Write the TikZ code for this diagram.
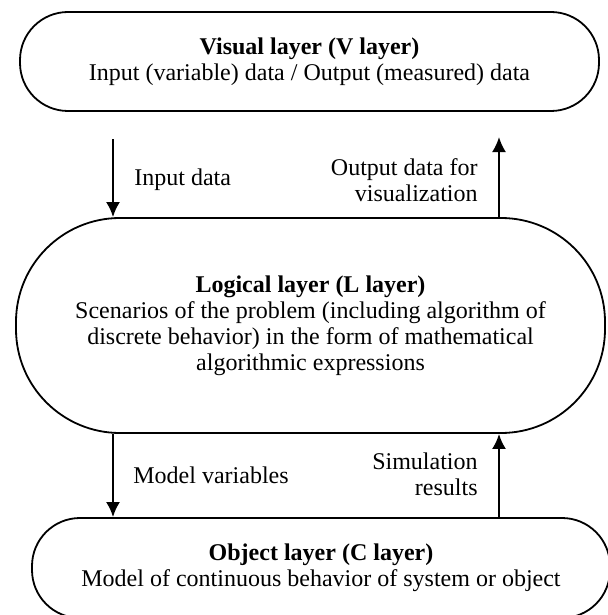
\documentclass[tikz,border=0pt]{standalone}
\usepackage{fontspec}
\setmainfont{Liberation Serif}
\usetikzlibrary{arrows.meta}

\tikzset{
  layer/.style={draw, line width=.9pt, align=center, inner sep=0pt,
    font=\fontsize{12}{13}\selectfont},
  flow/.style={line width=1.1pt, -{Latex[length=7.5pt,width=7pt]}},
  lbl/.style={inner sep=0pt, font=\fontsize{12}{13}\selectfont}
}

\begin{document}
\begin{tikzpicture}[x=.5pt,y=-.5pt]
  \useasboundingbox (0,0) rectangle (608,615);

  % the three layers
  \node[layer, minimum width=289.5pt, minimum height=49.5pt,
        rounded corners=24pt] (visual) at (309.5,61.5)
    {\textbf{Visual layer (V layer)}\\
     Input (variable) data / Output (measured) data};
  \node[layer, minimum width=294.5pt, minimum height=107.5pt,
        rounded corners=52pt] (logical) at (310.5,325.5)
    {\textbf{Logical layer (L layer)}\\
     Scenarios of the problem (including algorithm of\\
     discrete behavior) in the form of mathematical\\
     algorithmic expressions};
  \node[layer, minimum width=289pt, minimum height=50pt,
        rounded corners=24pt] (object) at (321,568)
    {\textbf{Object layer (C layer)}\\
     Model of continuous behavior of system or object};

  % free ends of the upper arrows
  \coordinate (indata) at (113,139);
  \coordinate (outdata) at (499,137);
  \coordinate (down) at (113,0);
  \coordinate (up) at (499,0);

  \draw[flow] (indata) -- (indata |- logical.north);
  \draw[flow] (outdata |- logical.north) -- (outdata);
  \draw[flow] (down |- logical.south) -- (down |- object.north);
  \draw[flow] (up |- object.north) -- (up |- logical.south);

  \node[lbl, anchor=west] (inlbl) at (134,180) {Input data};
  \node[lbl, anchor=east, align=right] (outlbl) at (478,180)
    {Output data for\\visualization};
  \node[lbl, anchor=west] (mvlbl) at (133,475) {Model variables};
  \node[lbl, anchor=east, align=right] (simlbl) at (478,474)
    {Simulation\\results};
\end{tikzpicture}
\end{document}
